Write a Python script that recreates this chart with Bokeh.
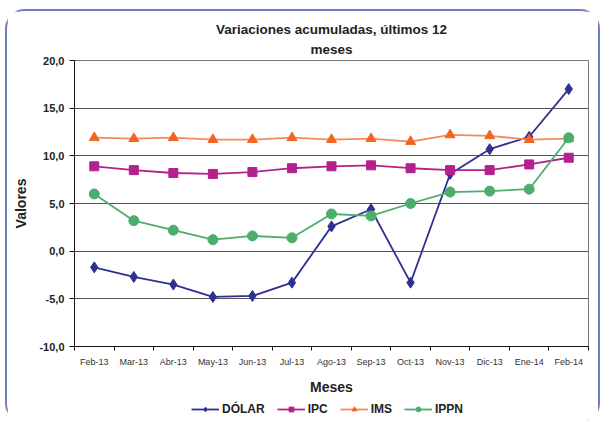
from bokeh.plotting import figure
from bokeh.layouts import column
from bokeh.models import FixedTicker, CustomJSTickFormatter, Legend, LegendItem, Title, Range1d
from bokeh.embed import file_html
from bokeh.resources import INLINE

months = ["Feb-13", "Mar-13", "Abr-13", "May-13", "Jun-13", "Jul-13", "Ago-13",
          "Sep-13", "Oct-13", "Nov-13", "Dic-13", "Ene-14", "Feb-14"]
dolar = [-1.7, -2.7, -3.5, -4.8, -4.7, -3.3, 2.6, 4.4, -3.3, 8.1, 10.7, 12.0, 17.0]
ipc = [8.9, 8.5, 8.2, 8.1, 8.3, 8.7, 8.9, 9.0, 8.7, 8.5, 8.5, 9.1, 9.8]
ims = [11.9, 11.8, 11.9, 11.7, 11.7, 11.9, 11.7, 11.8, 11.5, 12.2, 12.1, 11.7, 11.8]
ippn = [6.0, 3.2, 2.2, 1.2, 1.6, 1.4, 3.9, 3.7, 5.0, 6.2, 6.3, 6.5, 11.9]
y_ticks = [-10, -5, 0, 5, 10, 15, 20]

FONT = "Liberation Sans"
TXT = "#222222"
xs = list(range(len(months)))
W = 591

p = figure(width=W, height=387, output_backend="svg", toolbar_location=None,
           x_range=(-0.5, len(months) - 0.5), y_range=(-10, 20),
           min_border_left=67, min_border_right=10, min_border_top=49, min_border_bottom=52)

p.add_layout(Title(text="meses", align="center", text_font=FONT, text_font_size="13.5px",
                   text_font_style="bold", text_color=TXT, standoff=7), "above")
p.add_layout(Title(text="Variaciones acumuladas, últimos 12", align="center", text_font=FONT,
                   text_font_size="13.5px", text_font_style="bold", text_color=TXT, standoff=0), "above")

p.outline_line_color = "#777777"
p.xgrid.grid_line_color = None
p.ygrid.grid_line_color = "#555555"
p.ygrid.grid_line_width = 1

p.yaxis.ticker = FixedTicker(ticks=y_ticks)
p.yaxis.formatter = CustomJSTickFormatter(code="return tick.toFixed(1).replace('.', ',');")
p.yaxis.major_label_text_font = FONT
p.yaxis.major_label_text_font_size = "11px"
p.yaxis.major_label_text_font_style = "bold"
p.yaxis.major_label_text_color = TXT
p.yaxis.major_tick_out = 5
p.yaxis.major_tick_in = 0
p.yaxis.minor_tick_line_color = None
p.yaxis.axis_line_color = "#111111"
p.yaxis.major_tick_line_color = "#111111"
p.yaxis.major_label_standoff = 5
p.yaxis.axis_label = "Valores"
p.yaxis.axis_label_text_font = FONT
p.yaxis.axis_label_text_font_size = "14px"
p.yaxis.axis_label_text_font_style = "bold"
p.yaxis.axis_label_text_color = TXT
p.yaxis.axis_label_standoff = 7

p.xaxis.ticker = FixedTicker(ticks=xs, minor_ticks=[i - 0.5 for i in range(len(months) + 1)])
p.xaxis.major_label_overrides = {i: m for i, m in enumerate(months)}
p.xaxis.major_label_text_font = FONT
p.xaxis.major_label_text_font_size = "9px"
p.xaxis.major_label_text_color = "#333333"
p.xaxis.major_tick_line_color = None
p.xaxis.major_tick_out = 4
p.xaxis.major_tick_in = 0
p.xaxis.minor_tick_out = 4
p.xaxis.minor_tick_in = 0
p.xaxis.minor_tick_line_color = "#111111"
p.xaxis.axis_line_color = "#111111"
p.xaxis.major_label_standoff = 6
p.xaxis.axis_label = "Meses"
p.xaxis.axis_label_text_font = FONT
p.xaxis.axis_label_text_font_size = "14px"
p.xaxis.axis_label_text_font_style = "bold"
p.xaxis.axis_label_text_color = TXT
p.xaxis.axis_label_standoff = 9

series = [
    ("DÓLAR", dolar, "#2e3192", "#2e3192", "diamond", 11),
    ("IPC", ipc, "#b3218e", "#b3218e", "square", 9),
    ("IMS", ims, "#f58a5a", "#f26522", "triangle", 10),
    ("IPPN", ippn, "#4dad6c", "#4dad6c", "circle", 10),
]

# legend strip under the chart (its own small plot, no axes)
leg = figure(width=W, height=23, output_backend="svg", toolbar_location=None,
             x_range=Range1d(0, 1), y_range=Range1d(0, 1),
             x_axis_location=None, y_axis_location=None,
             min_border=0, outline_line_color=None)
leg.grid.visible = False

items = []
for name, vals, lc, mc, marker, size in series:
    p.line(xs, vals, line_color=lc, line_width=1.8)
    p.scatter(xs, vals, marker=marker, size=size, fill_color=mc, line_color=mc)
    # proxy renderers placed outside the strip's visible range; only their legend swatches show
    dl = leg.line([-5, -4], [-5, -4], line_color=lc, line_width=1.8)
    ds = leg.scatter([-5], [-5], marker=marker, size=size, fill_color=mc, line_color=mc)
    items.append(LegendItem(label=name, renderers=[dl, ds]))

legend = Legend(items=items, orientation="horizontal", location=(117, 5),
                label_text_font=FONT, label_text_font_size="12px", label_text_font_style="bold",
                label_text_color=TXT, glyph_width=28, glyph_height=12, label_height=14,
                spacing=12, padding=2, margin=0, border_line_color=None,
                background_fill_alpha=0, label_standoff=3)
leg.add_layout(legend, "center")

layout = column(p, leg, margin=(9, 0, 0, 5),
                styles={"border": "2px solid #6f7fc0", "border-radius": "20px"})

open("out.html", "w").write(file_html(layout, INLINE))
